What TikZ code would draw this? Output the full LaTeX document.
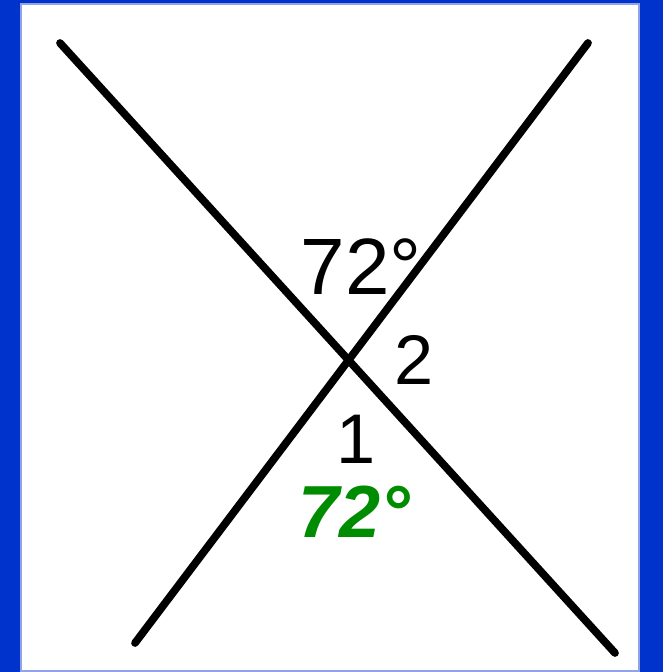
\documentclass[tikz,border=0pt]{standalone}
\usepackage{fontspec}
\setsansfont{Liberation Sans}
\usepackage{xcolor}
\usepackage{tikz}
\usetikzlibrary{calc}
\definecolor{FrameBlue}{HTML}{0033CC}
\definecolor{FrameEdge}{HTML}{8FA3E6}
\definecolor{InkGreen}{HTML}{008C00}

\begin{document}
\begin{tikzpicture}[x=0.02cm, y=-0.02cm,
    crossline/.style={black, line width=4.4pt, line cap=round},
    anglelabel/.style={font=\sffamily\fontsize{40}{44}\selectfont, inner sep=0pt},
    givenlabel/.style={font=\sffamily\fontsize{45.5}{50}\selectfont, inner sep=0pt},
    handnote/.style={InkGreen, font=\sffamily\bfseries\itshape\fontsize{42}{46}\selectfont, inner sep=0pt}]
      \fill[FrameBlue] (0,0) rectangle (663,672);
      \draw[FrameEdge, fill=white, line width=0.6pt] (21,4) rectangle (639,671);
      \useasboundingbox (0,0) rectangle (663,672);
      \coordinate (tl) at (60,43);
      \coordinate (br) at (615,653);
      \coordinate (tr) at (588,43);
      \coordinate (bl) at (135,643);
      \draw[crossline] (tl) -- (br);
      \draw[crossline] (tr) -- (bl);
      \node[givenlabel] (given) at (361,266.5) {72°};
      \node[anglelabel] (two) at (414.5,360) {2};
      \node[anglelabel] (one) at (356.5,439) {1};
      \node[handnote] (answer) at (354,512) {72°};
\end{tikzpicture}
\end{document}
